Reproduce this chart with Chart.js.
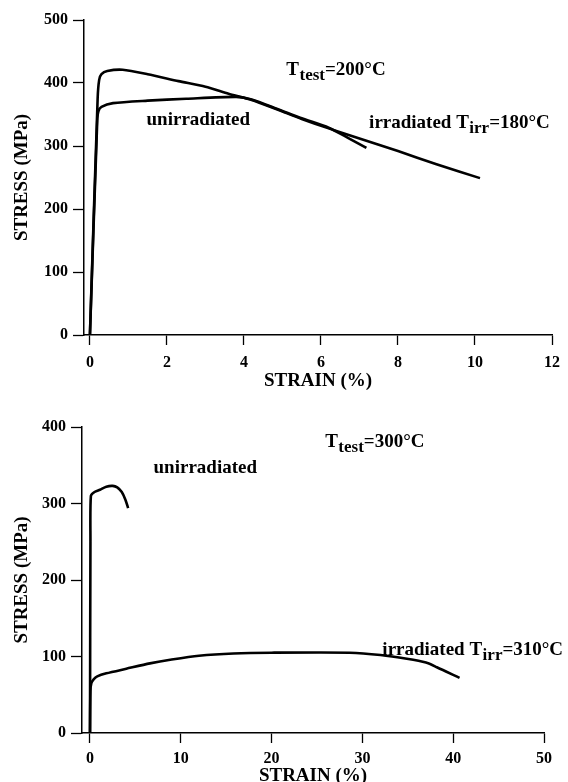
<!DOCTYPE html>
<html>
<head>
<meta charset="utf-8">
<script src="https://cdn.jsdelivr.net/npm/chart.js@4.4.1/dist/chart.umd.min.js"></script>
<style>
html, body { margin: 0; padding: 0; background: #fff; overflow: hidden; }
#c1 { position: absolute; left: 0; top: 0; }
#c2 { position: absolute; left: 0; top: 392px; }
</style>
</head>
<body>
<canvas id="c1" width="568" height="392"></canvas>
<canvas id="c2" width="568" height="395"></canvas>
<script>
// top panel, T test = 200 C
var strainIrr200 = [0, 0.2, 0.24, 0.3, 0.45, 0.85, 1.5, 2.3, 3.0, 3.6, 4.2, 4.9, 5.5, 6.2, 7.0, 8.0, 9.0, 10.13];
var stressIrr200 = [0, 375, 405, 414, 419, 421, 414, 403, 394, 383, 373, 357, 343, 328, 312, 292, 271, 249];
var strainUnirr200 = [0, 0.19, 0.22, 0.3, 0.6, 1.5, 2.5, 3.8, 4.2, 4.9, 5.5, 6.2, 6.7, 7.18];
var stressUnirr200 = [0, 340, 355, 362, 368, 372, 375, 378, 374, 358, 344, 329, 313, 297];
var strainTicks200 = [0, 2, 4, 6, 8, 10, 12];
var stressTicks200 = [0, 100, 200, 300, 400, 500];

// bottom panel, T test = 300 C
var strainUnirr300 = [0, 0.05, 0.1, 0.5, 1.1, 1.8, 2.5, 3.0, 3.5, 3.9, 4.2];
var stressUnirr300 = [0, 250, 310, 315, 318, 322, 323, 321, 315, 305, 294];
var strainIrr300 = [0, 0.05, 0.15, 0.4, 0.8, 1.8, 4, 6.6, 9, 12, 15.8, 20, 28.6, 32, 34.9, 37, 38.2, 40.7];
var stressIrr300 = [0, 55, 65, 70, 74, 78, 84, 91, 96, 101, 104, 105, 105, 102, 97, 92, 86, 72];
var strainTicks300 = [0, 10, 20, 30, 40, 50];
var stressTicks300 = [0, 100, 200, 300, 400];

var FONT = '"Liberation Serif", "Times New Roman", serif';

function pts(xs, ys) {
  return xs.map(function (x, i) { return { x: x, y: ys[i] }; });
}

function curve(xs, ys) {
  return {
    data: pts(xs, ys),
    showLine: true,
    borderColor: '#000',
    borderWidth: 2.6,
    pointRadius: 0,
    tension: 0.25,
    fill: false
  };
}

function notes(items) {
  return {
    id: 'notes',
    afterDatasetsDraw: function (chart) {
      var ctx = chart.ctx, sx = chart.scales.x, sy = chart.scales.y;
      ctx.save();
      ctx.fillStyle = '#000';
      ctx.textBaseline = 'alphabetic';
      ctx.textAlign = 'left';
      items.forEach(function (it) {
        var px = sx.getPixelForValue(it.x), py = sy.getPixelForValue(it.y);
        it.parts.forEach(function (p) {
          var size = p.sub ? 17 : 19;
          ctx.font = 'bold ' + size + 'px ' + FONT;
          ctx.fillText(p.t, px, py + (p.sub ? 5 : 0));
          px += ctx.measureText(p.t).width + (p.sub ? 0 : 0.5);
        });
      });
      ctx.restore();
    }
  };
}

function axes(xmin, xmax, xTicks, ymax, yTicks, yWidth, xHeight, xPad) {
  return {
    x: {
      type: 'linear', min: xmin, max: xmax,
      afterBuildTicks: function (s) { s.ticks = xTicks.map(function (v) { return { value: v }; }); },
      afterFit: function (s) { s.height = xHeight; },
      grid: { drawOnChartArea: false, drawTicks: true, tickLength: 10, tickColor: '#000', tickWidth: 1.3 },
      border: { display: true, color: '#000', width: 1.5 },
      ticks: { color: '#000', padding: xPad, maxRotation: 0, font: { family: FONT, size: 16, weight: 'bold' } },
      title: { display: true, text: 'STRAIN (%)', color: '#000', padding: 0, font: { family: FONT, size: 19, weight: 'bold' } }
    },
    y: {
      type: 'linear', min: 0, max: ymax,
      afterBuildTicks: function (s) { s.ticks = yTicks.map(function (v) { return { value: v }; }); },
      afterFit: function (s) { s.width = yWidth; },
      grid: { drawOnChartArea: false, drawTicks: true, tickLength: 11, tickColor: '#000', tickWidth: 1.3 },
      border: { display: true, color: '#000', width: 1.5 },
      ticks: { color: '#000', padding: 5, font: { family: FONT, size: 16, weight: 'bold' } },
      title: { display: true, text: 'STRESS (MPa)', color: '#000', padding: { top: 11, bottom: 0 }, font: { family: FONT, size: 19, weight: 'bold' } }
    }
  };
}

new Chart(document.getElementById('c1'), {
  type: 'scatter',
  data: { datasets: [curve(strainIrr200, stressIrr200), curve(strainUnirr200, stressUnirr200)] },
  options: {
    responsive: false,
    animation: false,
    layout: { padding: { left: 0, right: 11, top: 20, bottom: 0 } },
    plugins: { legend: { display: false }, tooltip: { enabled: false } },
    scales: axes(-0.154, 12, strainTicks200, 500, stressTicks200, 84, 57, 8)
  },
  plugins: [notes([
    { x: 5.1, y: 413, parts: [{ t: 'T' }, { t: 'test', sub: true }, { t: '=200°C' }] },
    { x: 1.47, y: 333, parts: [{ t: 'unirradiated' }] },
    { x: 7.25, y: 329, parts: [{ t: 'irradiated T' }, { t: 'irr', sub: true }, { t: '=180°C' }] }
  ])]
});

new Chart(document.getElementById('c2'), {
  type: 'scatter',
  data: { datasets: [curve(strainUnirr300, stressUnirr300), curve(strainIrr300, stressIrr300)] },
  options: {
    responsive: false,
    animation: false,
    layout: { padding: { left: 0, right: 24, top: 35, bottom: 0 } },
    plugins: { legend: { display: false }, tooltip: { enabled: false } },
    scales: axes(-0.88, 50, strainTicks300, 400, stressTicks300, 82, 54, 6)
  },
  plugins: [notes([
    { x: 25.9, y: 374, parts: [{ t: 'T' }, { t: 'test', sub: true }, { t: '=300°C' }] },
    { x: 7.0, y: 340, parts: [{ t: 'unirradiated' }] },
    { x: 32.2, y: 102, parts: [{ t: 'irradiated T' }, { t: 'irr', sub: true }, { t: '=310°C' }] }
  ])]
});
</script>
</body>
</html>
